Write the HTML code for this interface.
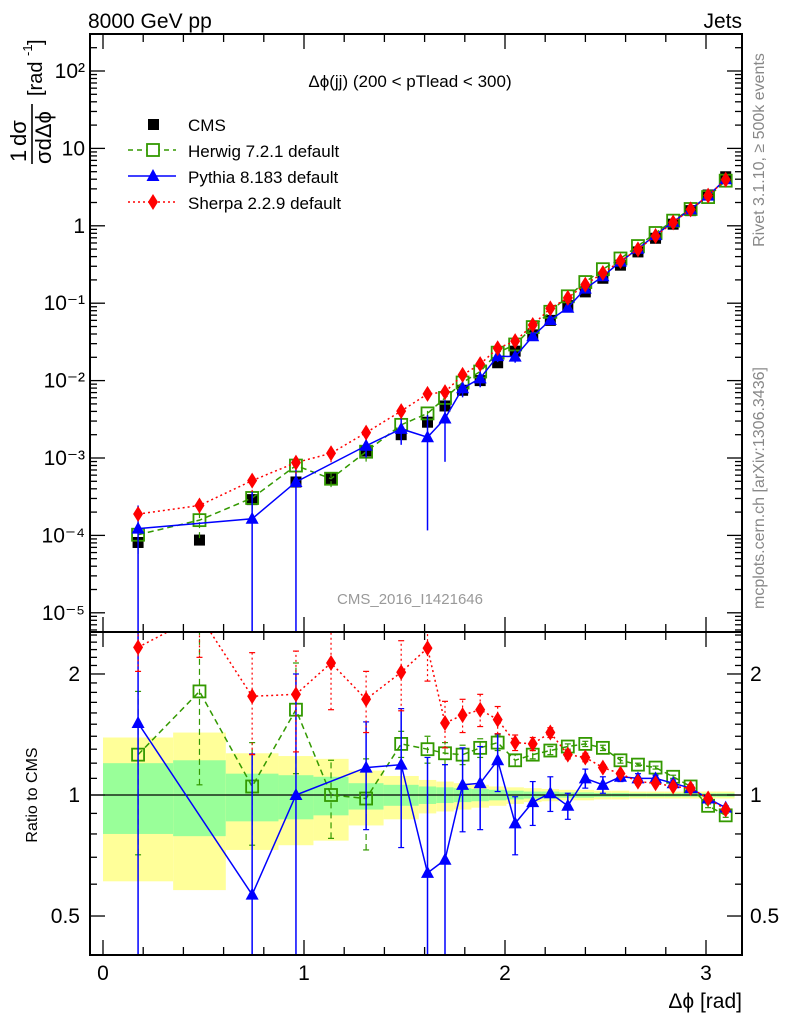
<!DOCTYPE html>
<html><head><meta charset="utf-8"><style>
html,body{margin:0;padding:0;background:#fff;width:786px;height:1024px;overflow:hidden;position:relative;}
svg{display:block;}
svg text{font-family:"Liberation Sans",sans-serif;}
</style></head><body>
<svg id="c" width="786" height="1024" viewBox="0 0 786 1024" style="position:absolute;left:0;top:0" xmlns="http://www.w3.org/2000/svg"></svg>
<script>
// ---- data ----
const binEdges = [0,0.349,0.611,0.873,1.047,1.222,1.396,1.571,1.658,1.745,1.833,1.920,2.007,2.094,2.182,2.269,2.356,2.443,2.531,2.618,2.705,2.793,2.880,2.967,3.054,3.142];
const cmsValues = [8.1e-5,8.7e-5,2.9e-4,4.9e-4,5.4e-4,1.23e-3,2.0e-3,2.9e-3,4.7e-3,7.5e-3,1.0e-2,1.7e-2,2.4e-2,3.9e-2,6.0e-2,0.093,0.14,0.21,0.31,0.46,0.69,1.05,1.57,2.5,4.3];
const yellowUp = [1.39,1.43,1.27,1.25,1.23,1.15,1.115,1.09,1.08,1.07,1.06,1.05,1.045,1.04,1.035,1.03,1.03,1.025,1.025,1.02,1.02,1.02,1.02,1.02,1.02];
const yellowDn = [0.61,0.58,0.73,0.75,0.77,0.84,0.87,0.90,0.91,0.92,0.93,0.94,0.95,0.96,0.965,0.97,0.97,0.975,0.975,0.98,0.98,0.98,0.98,0.98,0.98];
const greenUp = [1.20,1.22,1.13,1.12,1.11,1.07,1.06,1.05,1.045,1.04,1.035,1.03,1.025,1.02,1.02,1.015,1.015,1.012,1.012,1.01,1.01,1.01,1.01,1.01,1.01];
const greenDn = [0.80,0.79,0.86,0.87,0.89,0.92,0.94,0.95,0.955,0.96,0.965,0.97,0.975,0.98,0.98,0.985,0.985,0.988,0.988,0.99,0.99,0.99,0.99,0.99,0.99];
const herwigRatio = [1.26,1.81,1.05,1.63,1.0,0.98,1.34,1.30,1.27,1.26,1.31,1.35,1.22,1.26,1.29,1.32,1.34,1.31,1.22,1.19,1.17,1.11,1.05,0.94,0.89];
const herwigErr = [0.55,0.75,0.3,0.5,0.22,0.25,0.1,0.1,0.08,0.07,0.07,0.06,0.04,0.03,0.03,0.02,0.02,0.02,0.02,0.01,0.01,0.01,0.01,0.01,0.01];
const pythiaRatio = [1.51,null,0.565,1.0,null,1.17,1.19,0.64,0.69,1.06,1.07,1.22,0.85,0.96,1.01,0.94,1.10,1.06,1.11,1.10,1.10,1.07,1.04,0.98,0.93];
const pythiaErr = [1.5,0,0.7,1.0,0,0.35,0.45,0.6,0.5,0.25,0.25,0.2,0.14,0.12,0.1,0.07,0.06,0.05,0.03,0.03,0.02,0.02,0.02,0.01,0.01];
const sherpaRatio = [2.33,2.8,1.76,1.78,2.13,1.73,2.02,2.32,1.51,1.58,1.63,1.54,1.35,1.34,1.43,1.26,1.24,1.17,1.13,1.08,1.07,1.05,1.04,0.98,0.92];
const sherpaErr = [0.3,0.6,0.5,0.5,0.5,0.3,0.4,0.4,0.2,0.15,0.15,0.12,0.06,0.05,0.04,0.03,0.03,0.02,0.02,0.02,0.01,0.01,0.01,0.01,0.01];
const mainTickExps = [-5,-4,-3,-2,-1,0,1,2];
const mainTickLabels = ["10⁻⁵","10⁻⁴","10⁻³","10⁻²","10⁻¹","1","10","10²"];
const ratioTicks = [0.5,1,2];
const ratioTickLabels = ["0.5","1","2"];
const xTicks = [0,1,2,3];
const xTickLabels = ["0","1","2","3"];

// ---- geometry ----
const L=90,R=742,T=34,MB=632,RB=955;
const X=v=>103+v*201;
const YM=v=>71+(2-Math.log10(v))*77.4;
const YR=v=>795-Math.log10(v)*402;
const NS="http://www.w3.org/2000/svg";
const svg=document.getElementById('c');
function el(tag,attrs,parent){const e=document.createElementNS(NS,tag);for(const k in attrs)e.setAttribute(k,attrs[k]);(parent||svg).appendChild(e);return e;}
function txt(s,attrs,parent){const e=el('text',attrs,parent);e.textContent=s;return e;}
const centers=cmsValues.map((_,i)=>(binEdges[i]+binEdges[i+1])/2);

const defs=el('defs',{});
const cm=el('clipPath',{id:'cm'},defs);el('rect',{x:L,y:T,width:R-L,height:MB-T},cm);
const cr=el('clipPath',{id:'cr'},defs);el('rect',{x:L,y:MB,width:R-L,height:RB-MB},cr);

const bands=el('g',{'clip-path':'url(#cr)'});


cmsValues.forEach((_,i)=>{
  const x0=X(binEdges[i]),x1=X(binEdges[i+1]);
  const y=el('rect',{x:x0,y:YR(yellowUp[i]),width:x1-x0,height:YR(yellowDn[i])-YR(yellowUp[i]),fill:'#ffff99'},bands);
  
  
  const g=el('rect',{x:x0,y:YR(greenUp[i]),width:x1-x0,height:YR(greenDn[i])-YR(greenUp[i]),fill:'#99ff99'},bands);
  
  
});
el('line',{x1:L,x2:R,y1:YR(1),y2:YR(1),stroke:'#000','stroke-width':1.3});

function marker(type,x,y,color,parent){
  let m;
  if(type==='sq') m=el('rect',{x:x-5.5,y:y-5.5,width:11,height:11,fill:'#000'},parent);
  else if(type==='osq') m=el('rect',{x:x-6,y:y-6,width:12,height:12,fill:'none',stroke:color,'stroke-width':1.8},parent);
  else if(type==='tri') m=el('polygon',{points:`${x},${y-7} ${x+6.5},${y+5} ${x-6.5},${y+5}`,fill:color},parent);
  else m=el('polygon',{points:`${x},${y-8} ${x+5},${y} ${x},${y+8} ${x-5},${y}`,fill:color},parent);
  
  
  return m;
}
const gens=[
 {name:'herwig',ratio:herwigRatio,err:herwigErr,color:'#339900',dash:'6,4',m:'osq'},
 {name:'pythia',ratio:pythiaRatio,err:pythiaErr,color:'#0000ff',dash:'',m:'tri'},
 {name:'sherpa',ratio:sherpaRatio,err:sherpaErr,color:'#ff0000',dash:'2,3',m:'dia'}
];

const mg=el('g',{'clip-path':'url(#cm)'});


const rg=el('g',{'clip-path':'url(#cr)'});


cmsValues.forEach((v,i)=>{
  const m=marker('sq',X(centers[i]),YM(v),'#000',mg);
  
  
});
gens.forEach(g=>{
  const gm=el('g',{},mg);
  
  
  const gr=el('g',{},rg);
  
  
  let pm=[],pr=[];
  g.ratio.forEach((r,i)=>{
    if(r===null)return;
    const x=X(centers[i]);
    pm.push(x+','+YM(cmsValues[i]*r));pr.push(x+','+YR(r));
    const lo=Math.max(r-g.err[i],1e-6),hi=r+g.err[i];
    const sw=g.name==='pythia'?1.5:1.2;
    el('line',{x1:x,x2:x,y1:YM(cmsValues[i]*lo),y2:YM(cmsValues[i]*hi),stroke:g.color,'stroke-width':sw,'stroke-dasharray':g.dash},gm);
    el('line',{x1:x,x2:x,y1:YR(lo),y2:YR(hi),stroke:g.color,'stroke-width':sw,'stroke-dasharray':g.dash},gr);
    [lo,hi].forEach(e=>{el('line',{x1:x-3,x2:x+3,y1:YR(e),y2:YR(e),stroke:g.color,'stroke-width':1.2},gr);});
  });
  el('polyline',{points:pm.join(' '),fill:'none',stroke:g.color,'stroke-width':1.5,'stroke-dasharray':g.dash},gm);
  el('polyline',{points:pr.join(' '),fill:'none',stroke:g.color,'stroke-width':1.5,'stroke-dasharray':g.dash},gr);
  g.ratio.forEach((r,i)=>{
    if(r===null)return;
    const x=X(centers[i]);
    const a=marker(g.m,x,YM(cmsValues[i]*r),g.color,gm);
    
    const b=marker(g.m,x,YR(r),g.color,gr);
    
  });
});

const f1=el('rect',{x:L,y:T,width:R-L,height:MB-T,fill:'none',stroke:'#000','stroke-width':2});


const f2=el('rect',{x:L,y:MB,width:R-L,height:RB-MB,fill:'none',stroke:'#000','stroke-width':2});



const ax=el('g',{stroke:'#000','stroke-width':1.3});


for(let e=-6;e<=2;e++){for(let k=1;k<10;k++){const v=k*Math.pow(10,e);const y=YM(v);if(y<T||y>MB)continue;const len=k===1?15:7;
 el('line',{x1:L,x2:L+len,y1:y,y2:y},ax);el('line',{x1:R,x2:R-len,y1:y,y2:y},ax);}}
mainTickExps.forEach((e,i)=>{
  const t=txt(mainTickLabels[i],{x:L-5,y:YM(Math.pow(10,e))+7,'font-size':21,'text-anchor':'end'});
  
  
});
for(let v=0.4;v<2.55;v+=0.1){const r=Math.round(v*10)/10;const y=YR(r);if(y<MB||y>RB)continue;const major=ratioTicks.includes(r);const len=major?15:7;
 el('line',{x1:L,x2:L+len,y1:y,y2:y},ax);el('line',{x1:R,x2:R-len,y1:y,y2:y},ax);}
ratioTicks.forEach((v,i)=>{
  const t1=txt(ratioTickLabels[i],{x:L-10,y:YR(v)+7,'font-size':21,'text-anchor':'end'});
  
  
  const t2=txt(ratioTickLabels[i],{x:R+8,y:YR(v)+7,'font-size':21});
  
  
});
for(let k=0;k<=16;k++){const v=k*0.2;const x=X(v);if(x>R)continue;const major=k%5===0;const len=major?15:8;
 el('line',{x1:x,x2:x,y1:RB,y2:RB-len},ax);el('line',{x1:x,x2:x,y1:MB,y2:MB+len},ax);el('line',{x1:x,x2:x,y1:MB,y2:MB-len},ax);el('line',{x1:x,x2:x,y1:T,y2:T+len},ax);}
xTicks.forEach((v,i)=>{
  const t=txt(xTickLabels[i],{x:X(v),y:980,'font-size':21,'text-anchor':'middle'});
  
  
});
</script>
<svg width="786" height="1024" style="position:absolute;left:0;top:0" xmlns="http://www.w3.org/2000/svg">
<text x="88" y="28" font-size="21" font-family="Liberation Sans,sans-serif">8000 GeV pp</text>
<text x="742" y="28" font-size="21" text-anchor="end" font-family="Liberation Sans,sans-serif">Jets</text>
<text x="410" y="87" font-size="17" text-anchor="middle" font-family="Liberation Sans,sans-serif">Δϕ(jj) (200 &lt; pTlead &lt;  300)</text>
<g font-family="Liberation Sans,sans-serif" font-size="17">
<rect x="148" y="119" width="11" height="11" fill="#000"/>
<text x="188" y="131">CMS</text>
<line x1="128" x2="176" y1="150" y2="150" stroke="#339900" stroke-width="1.5" stroke-dasharray="5,4"/>
<rect x="147" y="144" width="12" height="12" fill="#fff" stroke="#339900" stroke-width="1.8"/>
<text x="188" y="157">Herwig 7.2.1 default</text>
<line x1="128" x2="176" y1="176" y2="176" stroke="#0000ff" stroke-width="1.5"/>
<polygon points="153,169 159.5,181 146.5,181" fill="#0000ff"/>
<text x="188" y="183">Pythia 8.183 default</text>
<line x1="128" x2="176" y1="202" y2="202" stroke="#ff0000" stroke-width="1.5" stroke-dasharray="2,3"/>
<polygon points="153,194 158,202 153,210 148,202" fill="#ff0000"/>
<text x="188" y="209">Sherpa 2.2.9 default</text>
</g>
<text x="410" y="604" font-size="15" fill="#999" text-anchor="middle" font-family="Liberation Sans,sans-serif">CMS_2016_I1421646</text>
<text transform="translate(764,150) rotate(-90)" font-size="16" fill="#888" text-anchor="middle" font-family="Liberation Sans,sans-serif">Rivet 3.1.10, ≥ 500k events</text>
<text transform="translate(764,488) rotate(-90)" font-size="16" fill="#888" text-anchor="middle" font-family="Liberation Sans,sans-serif">mcplots.cern.ch [arXiv:1306.3436]</text>
<g transform="translate(36,100) rotate(-90)" font-family="Liberation Sans,sans-serif">
<text x="-62" y="-10" font-size="22">1</text>
<line x1="-64" x2="-4" y1="-4" y2="-4" stroke="#000" stroke-width="1.6"/>
<text x="-46" y="-10" font-size="22">dσ</text>
<text x="-64" y="15" font-size="22">σdΔϕ</text>
<text x="4" y="6" font-size="20">[rad</text>
<text x="44" y="-4" font-size="13">-1</text>
<text x="55" y="6" font-size="20">]</text>
</g>
<text transform="translate(37,795) rotate(-90)" font-size="16" text-anchor="middle" font-family="Liberation Sans,sans-serif">Ratio to CMS</text>
<text x="742" y="1008" font-size="21" text-anchor="end" font-family="Liberation Sans,sans-serif">Δϕ [rad]</text>
</svg>
</body></html>
